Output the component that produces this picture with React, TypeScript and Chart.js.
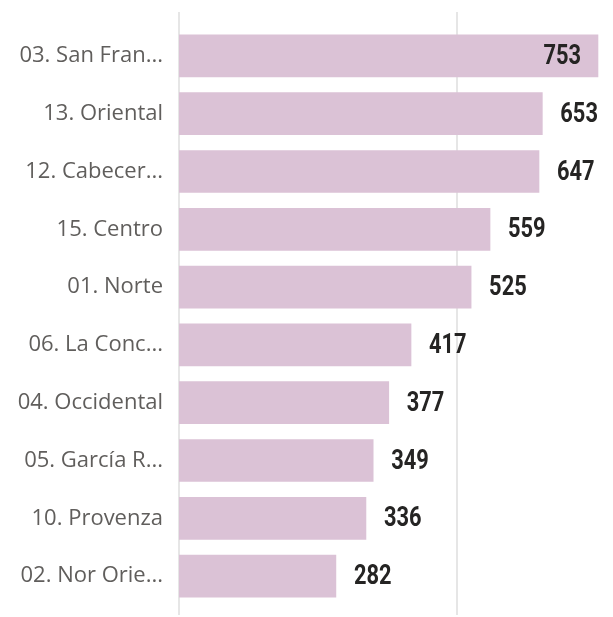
import React, { useEffect, useRef } from "react";
import { Chart, registerables } from "chart.js";

Chart.register(...registerables);

const categories = [
  "03. San Fran...",
  "13. Oriental",
  "12. Cabecer...",
  "15. Centro",
  "01. Norte",
  "06. La Conc...",
  "04. Occidental",
  "05. García R...",
  "10. Provenza",
  "02. Nor Orie...",
];
const values = [753, 653, 647, 559, 525, 417, 377, 349, 336, 282];
const gridValues = [0, 500];

const BAR_COLOR = "rgb(219,194,214)";

const gridPlugin = {
  id: "customGrid",
  beforeDatasetsDraw(chart: any) {
    const ctx = chart.ctx;
    const xs = chart.scales.x;
    ctx.save();
    ctx.strokeStyle = "#e6e6e6";
    ctx.lineWidth = 2;
    gridValues.forEach((v) => {
      const x = Math.round(xs.getPixelForValue(v));
      ctx.beginPath();
      ctx.moveTo(x, 12);
      ctx.lineTo(x, 615);
      ctx.stroke();
    });
    ctx.restore();
  },
};

const SX = 0.78;
const valueLabelPlugin = {
  id: "valueLabels",
  afterDatasetsDraw(chart: any) {
    const ctx = chart.ctx;
    const meta = chart.getDatasetMeta(0);
    ctx.save();
    ctx.font = "bold 28px Roboto, sans-serif";
    ctx.fillStyle = "#252423";
    ctx.textBaseline = "middle";
    meta.data.forEach((bar: any, i: number) => {
      const text = String(values[i]);
      const w = ctx.measureText(text).width * SX;
      const outsideX = bar.x + 18;
      let x: number;
      if (outsideX + w > chart.width - 2) {
        x = bar.x - 17 - w;
      } else {
        x = outsideX;
      }
      ctx.save();
      ctx.translate(x, bar.y + 1);
      ctx.scale(SX, 1);
      ctx.textAlign = "left";
      ctx.fillText(text, 0, 0);
      ctx.restore();
    });
    ctx.restore();
  },
};

export default function App() {
  const ref = useRef<HTMLCanvasElement>(null);
  useEffect(() => {
    document.body.style.margin = "0";
    const chart = new Chart(ref.current!, {
      type: "bar",
      data: {
        labels: categories,
        datasets: [
          {
            data: values,
            backgroundColor: BAR_COLOR,
            borderWidth: 0,
            barThickness: 42,
          },
        ],
      },
      options: {
        indexAxis: "y",
        animation: false,
        responsive: false,
        maintainAspectRatio: false,
        layout: { padding: { top: 27, bottom: 12, right: 0, left: 0 } },
        plugins: {
          legend: { display: false },
          tooltip: { enabled: false },
        },
        scales: {
          x: {
            display: false,
            min: 0,
            max: 780,
          },
          y: {
            afterFit(scale: any) {
              scale.width = 179;
              scale.paddingTop = 0;
              scale.paddingBottom = 0;
            },
            grid: { display: false, drawTicks: false },
            border: { display: false },
            ticks: {
              padding: 16,
              color: "#605E5C",
              font: { family: "'Open Sans', sans-serif", size: 22 },
            },
          },
        },
      },
      plugins: [gridPlugin, valueLabelPlugin],
    });
    return () => chart.destroy();
  }, []);
  return (
    <div style={{ width: 613, height: 617 }}>
      <canvas ref={ref} width={613} height={617} style={{ display: "block" }} />
    </div>
  );
}
